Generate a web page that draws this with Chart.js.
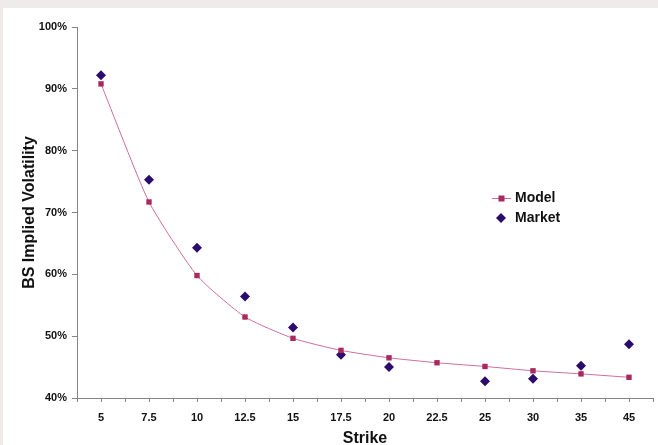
<!DOCTYPE html>
<html>
<head>
<meta charset="utf-8">
<script src="https://cdn.jsdelivr.net/npm/chart.js@4"></script>
<style>
  html, body { margin: 0; padding: 0; background: #efebe8; width: 658px; height: 445px; overflow: hidden; }
  #wrap { position: absolute; left: 3px; top: 8px; width: 655px; height: 437px; background: #ffffff; }
  canvas { display: block; }
</style>
</head>
<body>
<div id="wrap"><canvas id="c" width="655" height="437"></canvas></div>
<script>
const strikes = ['5', '7.5', '10', '12.5', '15', '17.5', '20', '22.5', '25', '30', '35', '45'];
const modelVol = [90.8, 71.7, 59.8, 53.1, 49.65, 47.7, 46.5, 45.7, 45.1, 44.4, 43.9, 43.35];
const marketVol = [92.2, 75.3, 64.3, 56.4, 51.4, 47.0, 45.0, null, 42.7, 43.1, 45.2, 48.7];
const yTicks = [40, 50, 60, 70, 80, 90, 100];

const FONT = "'Liberation Sans', Arial, sans-serif";
const AXIS = '#858585';
const MODEL_PT = '#a8285f';
const MODEL_LINE = '#cc6f9b';
const MARKET = '#2b0c6c';

const centerTicks = {
  id: 'centerTicks',
  afterDraw(chart) {
    const x = chart.scales.x;
    const ctx = chart.ctx;
    ctx.save();
    ctx.strokeStyle = AXIS;
    ctx.lineWidth = 1;
    ctx.beginPath();
    for (let i = 0; i < strikes.length; i++) {
      const px = Math.round(x.getPixelForValue(i)) + 0.5;
      ctx.moveTo(px, x.top);
      ctx.lineTo(px, x.top + 4);
    }
    ctx.stroke();
    ctx.restore();
  }
};

const customLegend = {
  id: 'customLegend',
  afterDraw(chart) {
    const ctx = chart.ctx;
    ctx.save();
    ctx.font = 'bold 14px ' + FONT;
    ctx.textBaseline = 'middle';
    // Model
    let y = 190.5;
    ctx.strokeStyle = MODEL_LINE;
    ctx.lineWidth = 1;
    ctx.beginPath();
    ctx.moveTo(489, y);
    ctx.lineTo(508, y);
    ctx.stroke();
    ctx.fillStyle = MODEL_PT;
    ctx.fillRect(495.5, y - 3, 6, 6);
    ctx.fillStyle = '#111111';
    ctx.fillText('Model', 512, y);
    // Market
    y = 210;
    ctx.fillStyle = MARKET;
    ctx.beginPath();
    ctx.moveTo(498, y - 5);
    ctx.lineTo(503, y);
    ctx.lineTo(498, y + 5);
    ctx.lineTo(493, y);
    ctx.closePath();
    ctx.fill();
    ctx.fillStyle = '#111111';
    ctx.fillText('Market', 512, y);
    ctx.restore();
  }
};

new Chart(document.getElementById('c'), {
  type: 'line',
  data: {
    labels: strikes,
    datasets: [
      {
        label: 'Model',
        data: modelVol,
        borderColor: MODEL_LINE,
        borderWidth: 1,
        backgroundColor: MODEL_PT,
        pointBackgroundColor: MODEL_PT,
        pointBorderColor: MODEL_PT,
        pointBorderWidth: 0,
        pointStyle: 'rect',
        pointRadius: 3.8,
        tension: 0.18,
        fill: false
      },
      {
        label: 'Market',
        data: marketVol,
        showLine: false,
        backgroundColor: MARKET,
        pointBackgroundColor: MARKET,
        pointBorderColor: MARKET,
        pointBorderWidth: 0,
        pointStyle: 'rectRot',
        pointRadius: 5
      }
    ]
  },
  options: {
    responsive: false,
    animation: false,
    layout: { padding: { left: 0, right: 0, top: 19, bottom: 0 } },
    plugins: {
      legend: { display: false },
      tooltip: { enabled: false }
    },
    scales: {
      x: {
        type: 'category',
        offset: true,
        afterFit(scale) { scale.height = 47; },
        grid: { display: true, offset: true, drawOnChartArea: false, drawTicks: true, tickLength: 4, color: AXIS },
        border: { display: true, color: AXIS, width: 1 },
        ticks: { color: '#111111', font: { family: FONT, size: 11, weight: 'bold' }, padding: 9, maxRotation: 0, autoSkip: false },
        title: { display: true, text: 'Strike', color: '#111111', font: { family: FONT, size: 16, weight: 'bold', lineHeight: 0.8 }, padding: { top: 0, bottom: 0 } }
      },
      y: {
        min: 40,
        max: 100,
        afterFit(scale) { scale.width = 74; },
        afterBuildTicks(scale) { scale.ticks = yTicks.map(v => ({ value: v })); },
        grid: { display: true, drawOnChartArea: false, drawTicks: true, tickLength: 5, color: AXIS },
        border: { display: true, color: AXIS, width: 1 },
        ticks: { color: '#111111', font: { family: FONT, size: 11, weight: 'bold' }, padding: 5, callback: v => v + '%' },
        title: { display: true, text: 'BS Implied Volatility', color: '#111111', font: { family: FONT, size: 16, weight: 'bold' }, padding: { top: 17, bottom: 0 } }
      }
    }
  },
  plugins: [centerTicks, customLegend]
});
</script>
</body>
</html>
